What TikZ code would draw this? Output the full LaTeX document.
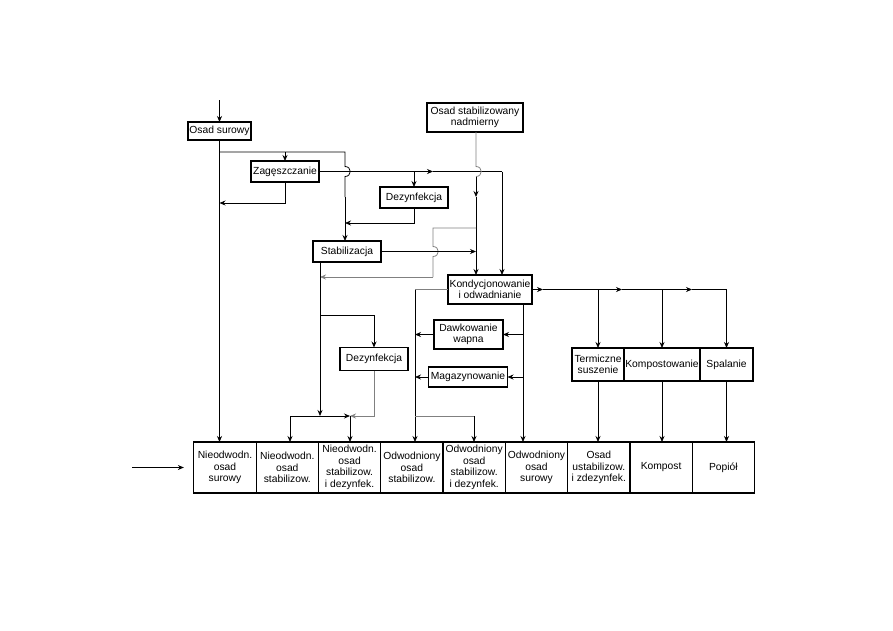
\documentclass[tikz,border=0pt]{standalone}
\usepackage{fontspec}
\setmainfont{Liberation Sans}
\usepackage{tikz}
\usetikzlibrary{arrows.meta, positioning}
\tikzstyle{block} = [draw, rectangle, line width=1.2pt, align=center, inner sep=1pt, outer sep=0pt, font=\fontsize{10.3}{11.6}\selectfont]
\tikzstyle{cell} = [block, minimum width=62.3pt, minimum height=51pt]
\tikzstyle{grayline} = [black!50]

\begin{document}
\begin{tikzpicture}[x=1pt, y=-1pt, >={Stealth[length=6pt, width=5pt]}, line width=0.8pt, node distance=62.3pt]
        \useasboundingbox (0,0) rectangle (893,630);

        % bloki procesow
        \node [block, minimum width=63pt, minimum height=18pt] (surowy) at (219.5,131) {Osad surowy};
        \node [block, minimum width=96pt, minimum height=29pt] (nadm) at (475,117.5) {Osad stabilizowany\\nadmierny};
        \node [block, minimum width=68pt, minimum height=21pt] (zag) at (285,171.5) {Zagęszczanie};
        \node [block, minimum width=68pt, minimum height=21pt] (dez1) at (414,197.5) {Dezynfekcja};
        \node [block, minimum width=68pt, minimum height=21pt] (stab) at (347,251.5) {Stabilizacja};
        \node [block, minimum width=84pt, minimum height=29pt] (kond) at (490,289.5) {Kondycjonowanie\\i odwadnianie};
        \node [block, minimum width=69pt, minimum height=29pt] (dawk) at (468.5,334.5) {Dawkowanie\\wapna};
        \node [block, minimum width=79pt, minimum height=20pt] (mag) at (468,377) {Magazynowanie};
        \node [block, minimum width=68pt, minimum height=23pt] (dez2) at (374,359) {Dezynfekcja};
        \node [block, minimum width=52pt, minimum height=33pt] (term) at (598,364.5) {Termiczne\\suszenie};
        \node [block, minimum width=76pt, minimum height=33pt, right=0pt of term] (komp) {Kompostowanie};
        \node [block, minimum width=53pt, minimum height=33pt, right=0pt of komp] (spal) {Spalanie};

        % produkty koncowe
        \node [cell] (b1) at (225,467.5) {Nieodwodn.\\osad\\surowy};
        \node [cell, right of=b1] (b2) {Nieodwodn.\\osad\\stabilizow.};
        \node [cell, right of=b2] (b3) {Nieodwodn.\\osad\\stabilizow.\\i dezynfek.};
        \node [cell, right of=b3] (b4) {Odwodniony\\osad\\stabilizow.};
        \node [cell, right of=b4] (b5) {Odwodniony\\osad\\stabilizow.\\i dezynfek.};
        \node [cell, right of=b5] (b6) {Odwodniony\\osad\\surowy};
        \node [cell, right of=b6] (b7) {Osad\\ustabilizow.\\i zdezynfek.};
        \node [cell, right of=b7] (b8) {Kompost};
        \node [cell, right of=b8] (b9) {Popiół};

        % punkty pomocnicze
        \coordinate (top) at (219.5,100);
        \coordinate (in) at (132,467.5);
        \coordinate (inend) at ([xshift=-10pt]b1.west);
        \coordinate (j1) at (219.5,152);
        \coordinate (j2) at (345,152);
        \coordinate (x1) at (345,171.5);
        \coordinate (m1) at (345,197);
        \coordinate (r1) at (219.5,203);
        \coordinate (m2) at (433,171.5);
        \coordinate (k2t) at (502,171.5);
        \coordinate (r2) at (345,223);
        \coordinate (x2) at (476,171.5);
        \coordinate (m3) at (476,197);
        \coordinate (n1) at (476,228);
        \coordinate (n2) at (433,228);
        \coordinate (x3) at (433,251.5);
        \coordinate (n3) at (433,277);
        \coordinate (x4) at (476,251.5);
        \coordinate (s1) at (320,262);
        \coordinate (s3) at (320,315);
        \coordinate (s4) at (320,277);
        \coordinate (s2) at (320,416);
        \coordinate (h1) at (290,416);
        \coordinate (h2) at (350,416);
        \coordinate (k1) at (415,289.5);
        \coordinate (k3) at (415,416);
        \coordinate (k4) at (474,416);
        \coordinate (k2) at (523,304);
        \coordinate (e1) at (543,289.5);
        \coordinate (e2) at (622,289.5);
        \coordinate (e3) at (692,289.5);

        % wejscia
        \draw [->] (top) -- (surowy.north);
        \draw [->] (in) -- (inend);
        \draw [->] (surowy.south) -- (surowy.south |- b1.north);

        % zageszczanie i stabilizacja
        \draw (j1) -- (j2) -- ([yshift=5pt]x1) .. controls +(7,0) and +(7,0) .. ([yshift=-5pt]x1) -- (m1);
        \draw [->] (m1) -- (stab.north -| m1);
        \draw [->] (zag |- j1) -- (zag.north);
        \draw [->] (zag.south) |- (r1);
        \draw [->] (zag.east) -- (m2);
        \draw (m2) -- (k2t);
        \draw [->] (k2t) -- (kond.north -| k2t);
        \draw [->] (dez1.north |- zag.east) -- (dez1.north);
        \draw [->] (dez1.south) |- (r2);

        % osad nadmierny
        \draw [grayline] (nadm.south -| x2) -- ([yshift=5pt]x2) .. controls +(7,0) and +(7,0) .. ([yshift=-5pt]x2);
        \draw [->] ([yshift=-5pt]x2) -- (m3);
        \draw [->] (m3) -- (kond.north -| m3);
        \draw [grayline] (n1) -- (n2) -- ([yshift=5pt]x3) .. controls +(7,0) and +(7,0) .. ([yshift=-5pt]x3) -- (n3);
        \draw [->, grayline] (n3) -- (s4);
        \draw [->] (stab.east) -- (x4);

        % osad stabilizowany
        \draw [->] (s1) -- (s2);
        \draw [->] (s3) -| (dez2.north);
        \draw (h1) -- (s2);
        \draw [->] (s2) -- (h2);
        \draw [->, grayline] (dez2.south) |- (h2);
        \draw [->] (h1) -- (h1 |- b2.north);
        \draw [->] (h2) -- (h2 |- b3.north);

        % odwadnianie
        \draw [grayline] (kond.west) -- (k1);
        \draw [->] (k1) -- (k1 |- b4.north);
        \draw [->] (dawk.west) -- (dawk.west -| k1);
        \draw [->] (mag.west) -- (mag.west -| k1);
        \draw [grayline] (k3) -- (k4);
        \draw [->] (k4) -- (k4 |- b5.north);
        \draw [->] (k2) -- (k2 |- b6.north);
        \draw [->] (k2 |- dawk.east) -- (dawk.east);
        \draw [->] (k2 |- mag.east) -- (mag.east);

        % przerobka termiczna
        \draw [->] (kond.east) -- (e1);
        \draw [->] (e1) -- (e2);
        \draw [->] (e2) -- (e3);
        \draw [->] (e3) -| (spal.north);
        \draw [->] (term.north |- e1) -- (term.north);
        \draw [->] (komp.north |- e1) -- (komp.north);
        \draw [->] (term.south) -- (term.south |- b7.north);
        \draw [->] (komp.south) -- (komp.south |- b8.north);
        \draw [->] (spal.south) -- (spal.south |- b9.north);
    \end{tikzpicture}
\end{document}
